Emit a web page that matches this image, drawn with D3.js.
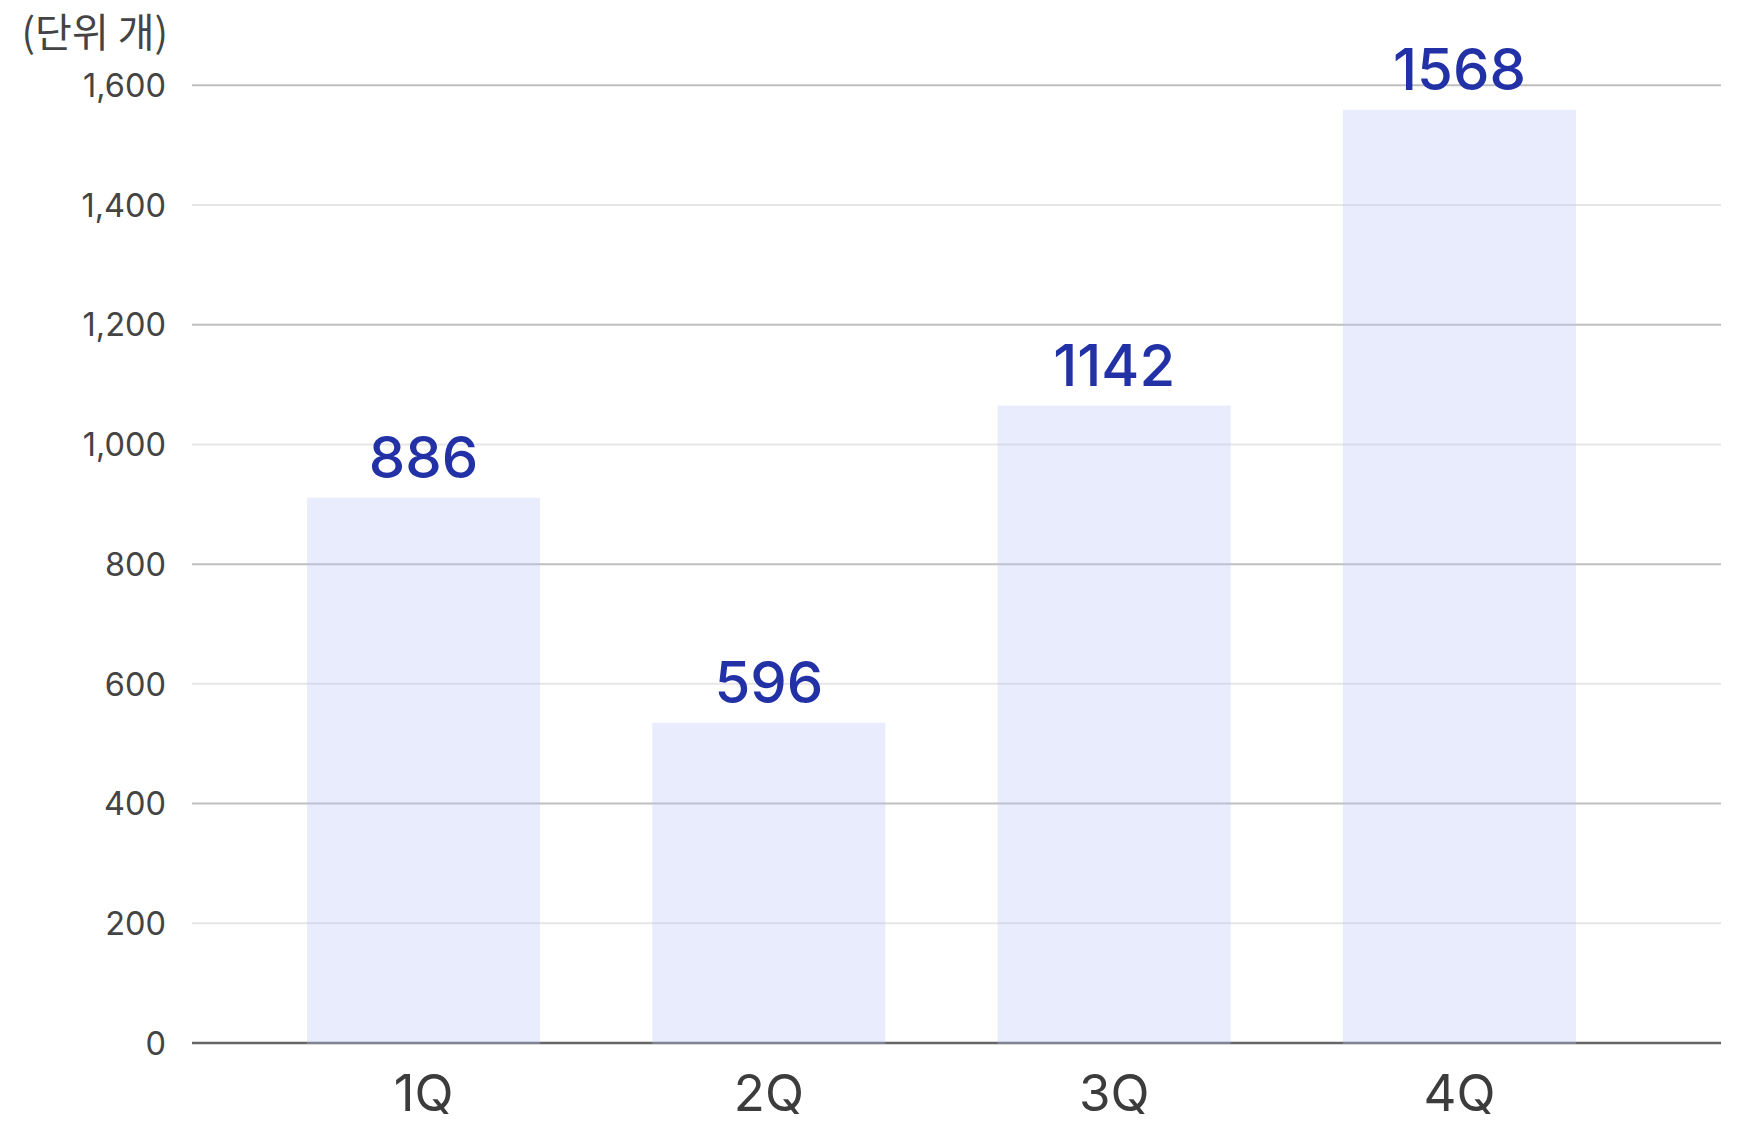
<!DOCTYPE html>
<html><head><meta charset="utf-8">
<script src="https://cdn.jsdelivr.net/npm/d3@7"></script>
<style>
html,body{margin:0;padding:0;background:#fff;}
svg{display:block;}
</style></head>
<body>
<script>
// ---- data ----
const categories = ["1Q", "2Q", "3Q", "4Q"];
const barValues = [911, 535, 1065, 1559];      // bar heights as drawn
const labelValues = [886, 596, 1142, 1568];    // printed value labels
const yTicks = [0, 200, 400, 600, 800, 1000, 1200, 1400, 1600];
const majorTicks = [400, 800, 1200, 1600];
const unitLabel = "(단위 개)";

const W = 1742, H = 1125;
const svg = d3.select("body").append("svg").attr("width", W).attr("height", H);

const gridLeft = 192, gridRight = 1721;
const y = d3.scaleLinear().domain([0, 1600]).range([1043, 85.3]);
const x = d3.scaleBand().domain(categories).range([307, 1576]).paddingInner(0.325).paddingOuter(0);

const fontNum = "Inter, 'Noto Sans CJK KR', sans-serif";

// gridlines
svg.append("g").selectAll("line").data(yTicks.filter(d => d > 0)).join("line")
  .attr("x1", gridLeft).attr("x2", gridRight)
  .attr("y1", d => y(d)).attr("y2", d => y(d))
  .attr("stroke", d => majorTicks.includes(d) ? "#bfbfbf" : "#e6e6e6")
  .attr("stroke-width", 2);

// baseline axis
svg.append("line").attr("x1", gridLeft).attr("x2", gridRight)
  .attr("y1", y(0)).attr("y2", y(0)).attr("stroke", "#666").attr("stroke-width", 2.5);

// y tick labels
svg.append("g").selectAll("text").data(yTicks).join("text")
  .attr("x", 166).attr("y", d => y(d)).attr("dy", "0.36em")
  .attr("text-anchor", "end").attr("fill", "#444")
  .style("font-family", fontNum).style("font-size", "32.5px")
  .text(d => d3.format(",")(d));

// unit label
svg.append("text").attr("x", 168).attr("y", 33).attr("dy", "0.36em")
  .attr("text-anchor", "end").attr("fill", "#444")
  .style("font-family", "'Noto Sans CJK KR', sans-serif").style("font-size", "40px")
  .text(unitLabel);

// bars (semi-transparent, over grid and axis)
svg.append("g").selectAll("rect").data(categories).join("rect")
  .attr("x", d => x(d)).attr("width", x.bandwidth())
  .attr("y", (d, i) => y(barValues[i]))
  .attr("height", (d, i) => y(0) + 1.25 - y(barValues[i]))
  .attr("fill", "rgb(185,194,248)").attr("fill-opacity", 0.31);

// value labels
svg.append("g").selectAll("text").data(categories).join("text")
  .attr("x", d => x(d) + x.bandwidth() / 2)
  .attr("y", (d, i) => y(barValues[i]) - 20)
  .attr("text-anchor", "middle").attr("fill", "#2231a6")
  .style("font-family", fontNum).style("font-size", "58px").style("font-weight", 500)
  .text((d, i) => labelValues[i]);

// x labels
svg.append("g").selectAll("text").data(categories).join("text")
  .attr("x", d => x(d) + x.bandwidth() / 2).attr("y", 1111)
  .attr("text-anchor", "middle").attr("fill", "#3c3c3c")
  .style("font-family", fontNum).style("font-size", "51px").style("font-weight", 400)
  .text(d => d);
</script>
</body></html>
